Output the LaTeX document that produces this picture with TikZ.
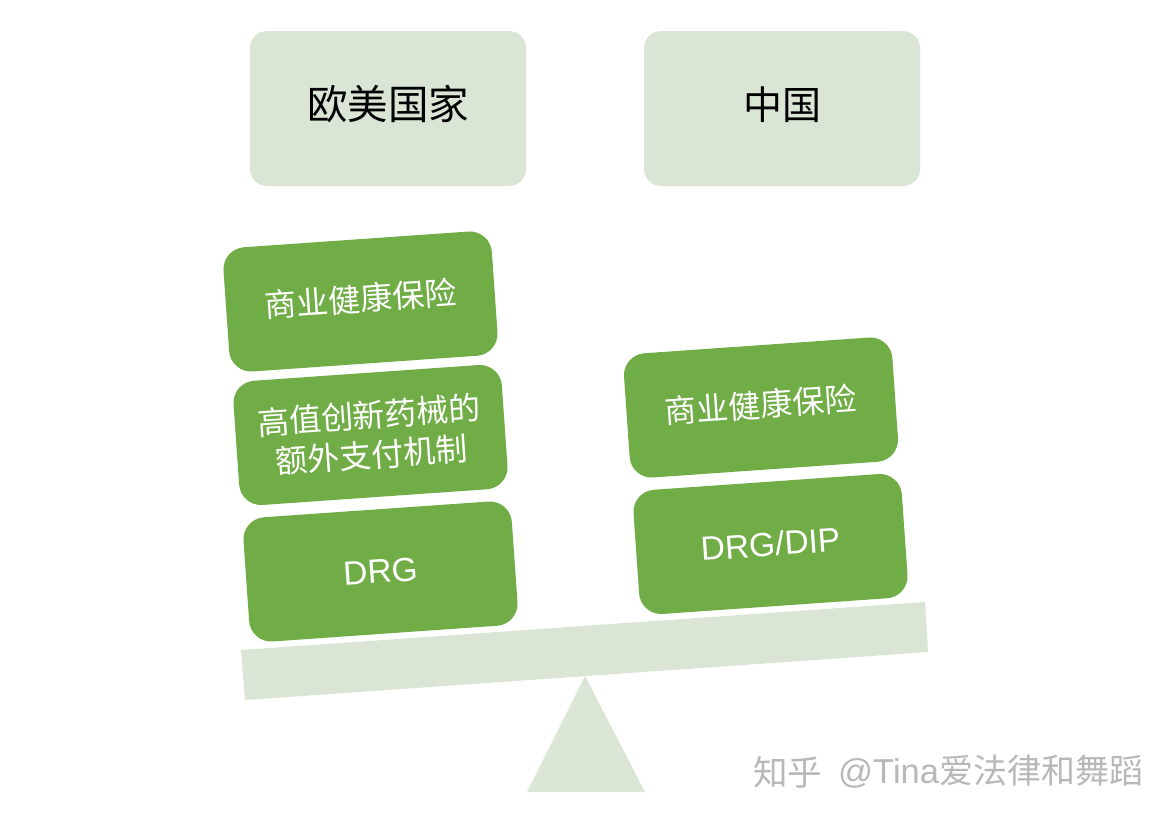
\documentclass[tikz,border=0pt]{standalone}
\usepackage{fontspec}
\setmainfont{Liberation Sans}
\newfontfamily\cjk{Noto Sans CJK SC}
\definecolor{pale}{HTML}{DAE5D5}
\definecolor{leaf}{HTML}{70AD47}
\definecolor{mark}{HTML}{B8B8B8}
\tikzset{
  x=1pt,y=-1pt,
  headbox/.style={fill=pale,rounded corners=17pt,minimum width=276pt,minimum height=155pt,inner sep=0pt,text=black,text height=36pt,text depth=15pt,font=\cjk\fontsize{40.5}{44}\selectfont},
  greenbox/.style={fill=leaf,rounded corners=22pt,minimum width=269pt,minimum height=124.5pt,inner sep=0pt,text=white,align=center,rotate=4,font=\cjk\fontsize{32}{40}\selectfont},
  onelinebox/.style={greenbox,text height=28pt,text depth=9pt},
  latinbox/.style={greenbox,font=\fontsize{33.5}{40}\selectfont},
  wm/.style={text=mark,inner sep=0pt,anchor=west}
}
\begin{document}
\begin{tikzpicture}
\useasboundingbox (0,0) rectangle (1172,820);
\fill[white] (0,0) rectangle (1172,820);
\node[headbox] (west) at (388,108.5) {欧美国家};
\node[headbox,font=\cjk\fontsize{39}{44}\selectfont] (china) at (782,108.5) {中国};
\fill[pale] (241,650) -- (925,602) -- (928,652) -- (245,700) -- cycle;
\fill[pale] (527,792) -- (585,676) -- (645,792) -- cycle;
\node[onelinebox] (ins1) at (360.5,301.5) {商业健康保险};
\node[greenbox] (extra) at (370.5,435) {高值创新药械的\\额外支付机制};
\node[latinbox] (drg) at (380.5,571.5) {DRG};
\node[onelinebox] (ins2) at (761,407.5) {商业健康保险};
\node[latinbox] (dip) at (770.5,544) {DRG/DIP};
\node[wm,font=\cjk\fontsize{34.5}{36}\selectfont] (zh) at (753,772) {知乎};
\node[wm,font=\fontsize{34.5}{36}\selectfont] (tag) at (838,772) {@Tina{\cjk\fontsize{34}{36}\selectfont 爱法律和舞蹈}};
\end{tikzpicture}
\end{document}
